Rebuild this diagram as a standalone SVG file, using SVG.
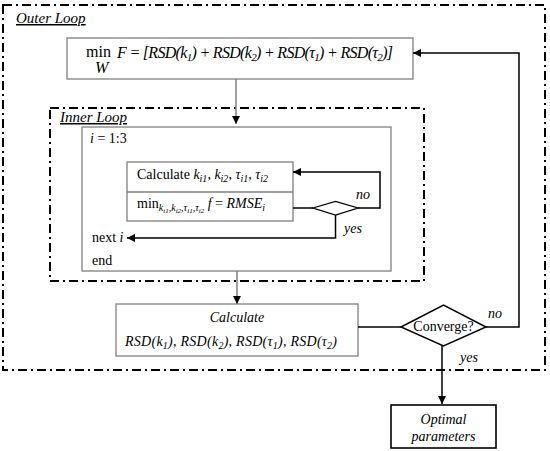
<svg xmlns="http://www.w3.org/2000/svg" width="550" height="451" viewBox="0 0 550 451" font-family="'Liberation Serif', 'DejaVu Serif', serif">
<style>
.loop{fill:none;stroke:#000;stroke-width:2;stroke-dasharray:9,4,2,4}
.box{fill:#fff;stroke:#808080;stroke-width:1.3}
.bbox{fill:#fff;stroke:#000;stroke-width:1.6}
.line{fill:none;stroke:#000;stroke-width:1.5}
.gline{fill:none;stroke:#808080;stroke-width:1.5}
.t{font-size:14px;fill:#000}
.i{font-style:italic}
.m{font-size:16px;fill:#000}
.lab{font-size:15px;font-style:italic;text-decoration:underline;fill:#000}
</style>
<defs>
<marker id="ah" viewBox="0 0 10 10" refX="10" refY="5" markerWidth="8" markerHeight="8" markerUnits="userSpaceOnUse" orient="auto">
<path d="M0,0 L10,5 L0,10 z" fill="#000"/>
</marker>
</defs>
<rect width="550" height="451" fill="#fff"/>
<g id="outer-loop">
<rect class="loop" x="3" y="5" width="542" height="365"/>
<text class="lab" x="16" y="23">Outer Loop</text>
</g>
<g id="inner-loop">
<rect class="loop" x="50" y="108" width="374" height="173"/>
<text class="lab" x="60" y="122">Inner Loop</text>
</g>
<g id="objective">
<rect class="box" x="67" y="38" width="346" height="41"/>
<text class="m" x="86" y="57">min</text>
<text class="m i" x="95" y="73" font-size="9">W</text>
<text class="m i" x="117" y="58" textLength="276" lengthAdjust="spacing">F = [RSD(k<tspan dy="3" font-size="11">1</tspan><tspan dy="-3">) + RSD(k</tspan><tspan dy="3" font-size="11">2</tspan><tspan dy="-3">) + RSD(τ</tspan><tspan dy="3" font-size="11">1</tspan><tspan dy="-3">) + RSD(τ</tspan><tspan dy="3" font-size="11">2</tspan><tspan dy="-3">)]</tspan></text>
</g>
<g id="for-loop">
<rect class="box" x="82" y="127" width="309" height="144"/>
<text class="t" x="90" y="143"><tspan class="i">i</tspan> = 1:3</text>
<text class="t" x="92" y="242">next <tspan class="i">i</tspan></text>
<text class="t" x="92" y="265">end</text>
</g>
<g id="inner-calc">
<rect class="box" x="127" y="162" width="166" height="59"/>
<line class="gline" x1="127" y1="192" x2="293" y2="192" stroke-width="1.3"/>
<text class="t" x="137" y="179">Calculate <tspan class="i">k</tspan><tspan class="i" dy="3" font-size="10">i1</tspan><tspan dy="-3">, </tspan><tspan class="i">k</tspan><tspan class="i" dy="3" font-size="10">i2</tspan><tspan dy="-3">, </tspan><tspan class="i">τ</tspan><tspan class="i" dy="3" font-size="10">i1</tspan><tspan dy="-3">, </tspan><tspan class="i">τ</tspan><tspan class="i" dy="3" font-size="10">i2</tspan></text>
<text class="t" x="137" y="208">min<tspan class="i" dy="3" font-size="10">k</tspan><tspan class="i" dy="2" font-size="7">i1</tspan><tspan dy="-2" font-size="10">,</tspan><tspan class="i" font-size="10">k</tspan><tspan class="i" dy="2" font-size="7">i2</tspan><tspan dy="-2" font-size="10">,</tspan><tspan class="i" font-size="10">τ</tspan><tspan class="i" dy="2" font-size="7">i1</tspan><tspan dy="-2" font-size="10">,</tspan><tspan class="i" font-size="10">τ</tspan><tspan class="i" dy="2" font-size="7">i2</tspan><tspan class="i" dy="-5"> f</tspan><tspan> = </tspan><tspan class="i">RMSE</tspan><tspan class="i" dy="3" font-size="10">i</tspan></text>
</g>
<g id="calc-rsd">
<rect class="box" x="116" y="304" width="242" height="52"/>
<text class="t i" x="237" y="322" text-anchor="middle" font-size="15">Calculate</text>
<text class="t i" x="125" y="346" font-size="15" textLength="212" lengthAdjust="spacing">RSD(k<tspan dy="3" font-size="10">1</tspan><tspan dy="-3">), RSD(k</tspan><tspan dy="3" font-size="10">2</tspan><tspan dy="-3">), RSD(τ</tspan><tspan dy="3" font-size="10">1</tspan><tspan dy="-3">), RSD(τ</tspan><tspan dy="3" font-size="10">2</tspan><tspan dy="-3">)</tspan></text>
</g>
<g id="connectors">
<path class="gline" d="M236,79 V124" marker-end="url(#ah)"/>
<path class="gline" d="M237,271 V304" marker-end="url(#ah)"/>
<path class="line" d="M293,208 H313"/>
<path class="line" d="M358,208 H380 V172 H293" marker-end="url(#ah)"/>
<path class="line" d="M335.5,215 V238 H127" marker-end="url(#ah)"/>
<path class="line" d="M358,327 H401"/>
<path class="line" d="M486,327 H519 V53 H413" marker-end="url(#ah)"/>
<path class="line" d="M442,346 V404" marker-end="url(#ah)"/>
</g>
<g id="inner-check">
<path d="M313,208 L335.5,201.5 L358,208 L335.5,215 z" fill="#fff" stroke="#000" stroke-width="1.3"/>
<text class="t i" x="356" y="199">no</text>
<text class="t i" x="344" y="233">yes</text>
</g>
<g id="converge">
<path d="M401,327 L443.5,305 L486,327 L443.5,346 z" fill="#fff" stroke="#000" stroke-width="1.5"/>
<text class="t" x="443.5" y="331" text-anchor="middle">Converge?</text>
<text class="t i" x="488" y="318">no</text>
<text class="t i" x="460" y="362">yes</text>
</g>
<g id="optimal">
<rect class="bbox" x="391" y="405" width="105" height="43"/>
<text class="t i" x="443.5" y="424" text-anchor="middle" font-size="15">Optimal</text>
<text class="t i" x="443.5" y="441" text-anchor="middle" font-size="15">parameters</text>
</g>
</svg>
